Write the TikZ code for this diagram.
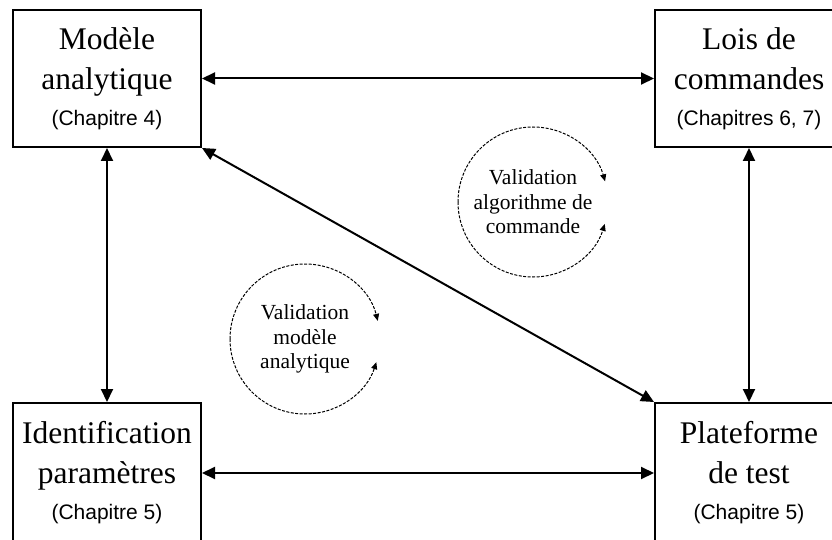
\documentclass[tikz,border=0pt]{standalone}
\usepackage{fontspec}
\setmainfont{Liberation Serif}
\setsansfont{Liberation Sans}
\usetikzlibrary{arrows.meta, positioning}
\newcommand{\chapfont}{\sffamily\fontsize{21}{25}\selectfont}

\begin{document}
\begin{tikzpicture}[x=1pt, y=-1pt,
  block/.style={rectangle, draw, line width=2pt, minimum width=188pt, minimum height=137pt, align=center, inner sep=0pt, font=\fontsize{31.5}{40}\selectfont},
  arrow/.style={{Triangle[length=13pt,width=12pt]}-{Triangle[length=13pt,width=12pt]}, line width=2pt},
  cyclearrow/.style={-{Triangle[length=7pt,width=6pt]}, dash pattern=on 3pt off 1.5pt, line width=1pt},
  cycletext/.style={align=center, font=\fontsize{21.5}{24.5}\selectfont}
]
\useasboundingbox (0,0) rectangle (832,540);
\node[block] (model) at (107,78.5) {Modèle\\analytique\\[-4pt]{\chapfont (Chapitre 4)}};
\node[block] (laws) at (749,78.5) {Lois de\\commandes\\[-4pt]{\chapfont (Chapitres 6, 7)}};
\node[block, minimum height=140pt] (ident) at (107,473) {Identification\\paramètres\\[-4pt]{\chapfont (Chapitre 5)}};
\node[block, minimum height=140pt] (bench) at (749,473) {Plateforme\\de test\\[-4pt]{\chapfont (Chapitre 5)}};
\draw[arrow] (model) -- (laws);
\draw[arrow] (model) -- (ident);
\draw[arrow] (laws) -- (bench);
\draw[arrow] (ident) -- (bench);
\draw[arrow] (model.south east) -- (bench.north west);
% validation loops
\node[cycletext] (valcmd) at (533,202) {Validation\\algorithme de\\commande};
\draw[cyclearrow] ([shift={(180:75pt)}]valcmd.center) arc[start angle=180, end angle=16, radius=75pt];
\draw[cyclearrow] ([shift={(180:75pt)}]valcmd.center) arc[start angle=180, end angle=343, radius=75pt];
\node[cycletext] (valmod) at (305,339) {Validation\\modèle\\analytique};
\draw[cyclearrow] ([shift={(180:75pt)}]valmod.center) arc[start angle=180, end angle=14, radius=75pt];
\draw[cyclearrow] ([shift={(180:75pt)}]valmod.center) arc[start angle=180, end angle=342, radius=75pt];
\end{tikzpicture}
\end{document}
